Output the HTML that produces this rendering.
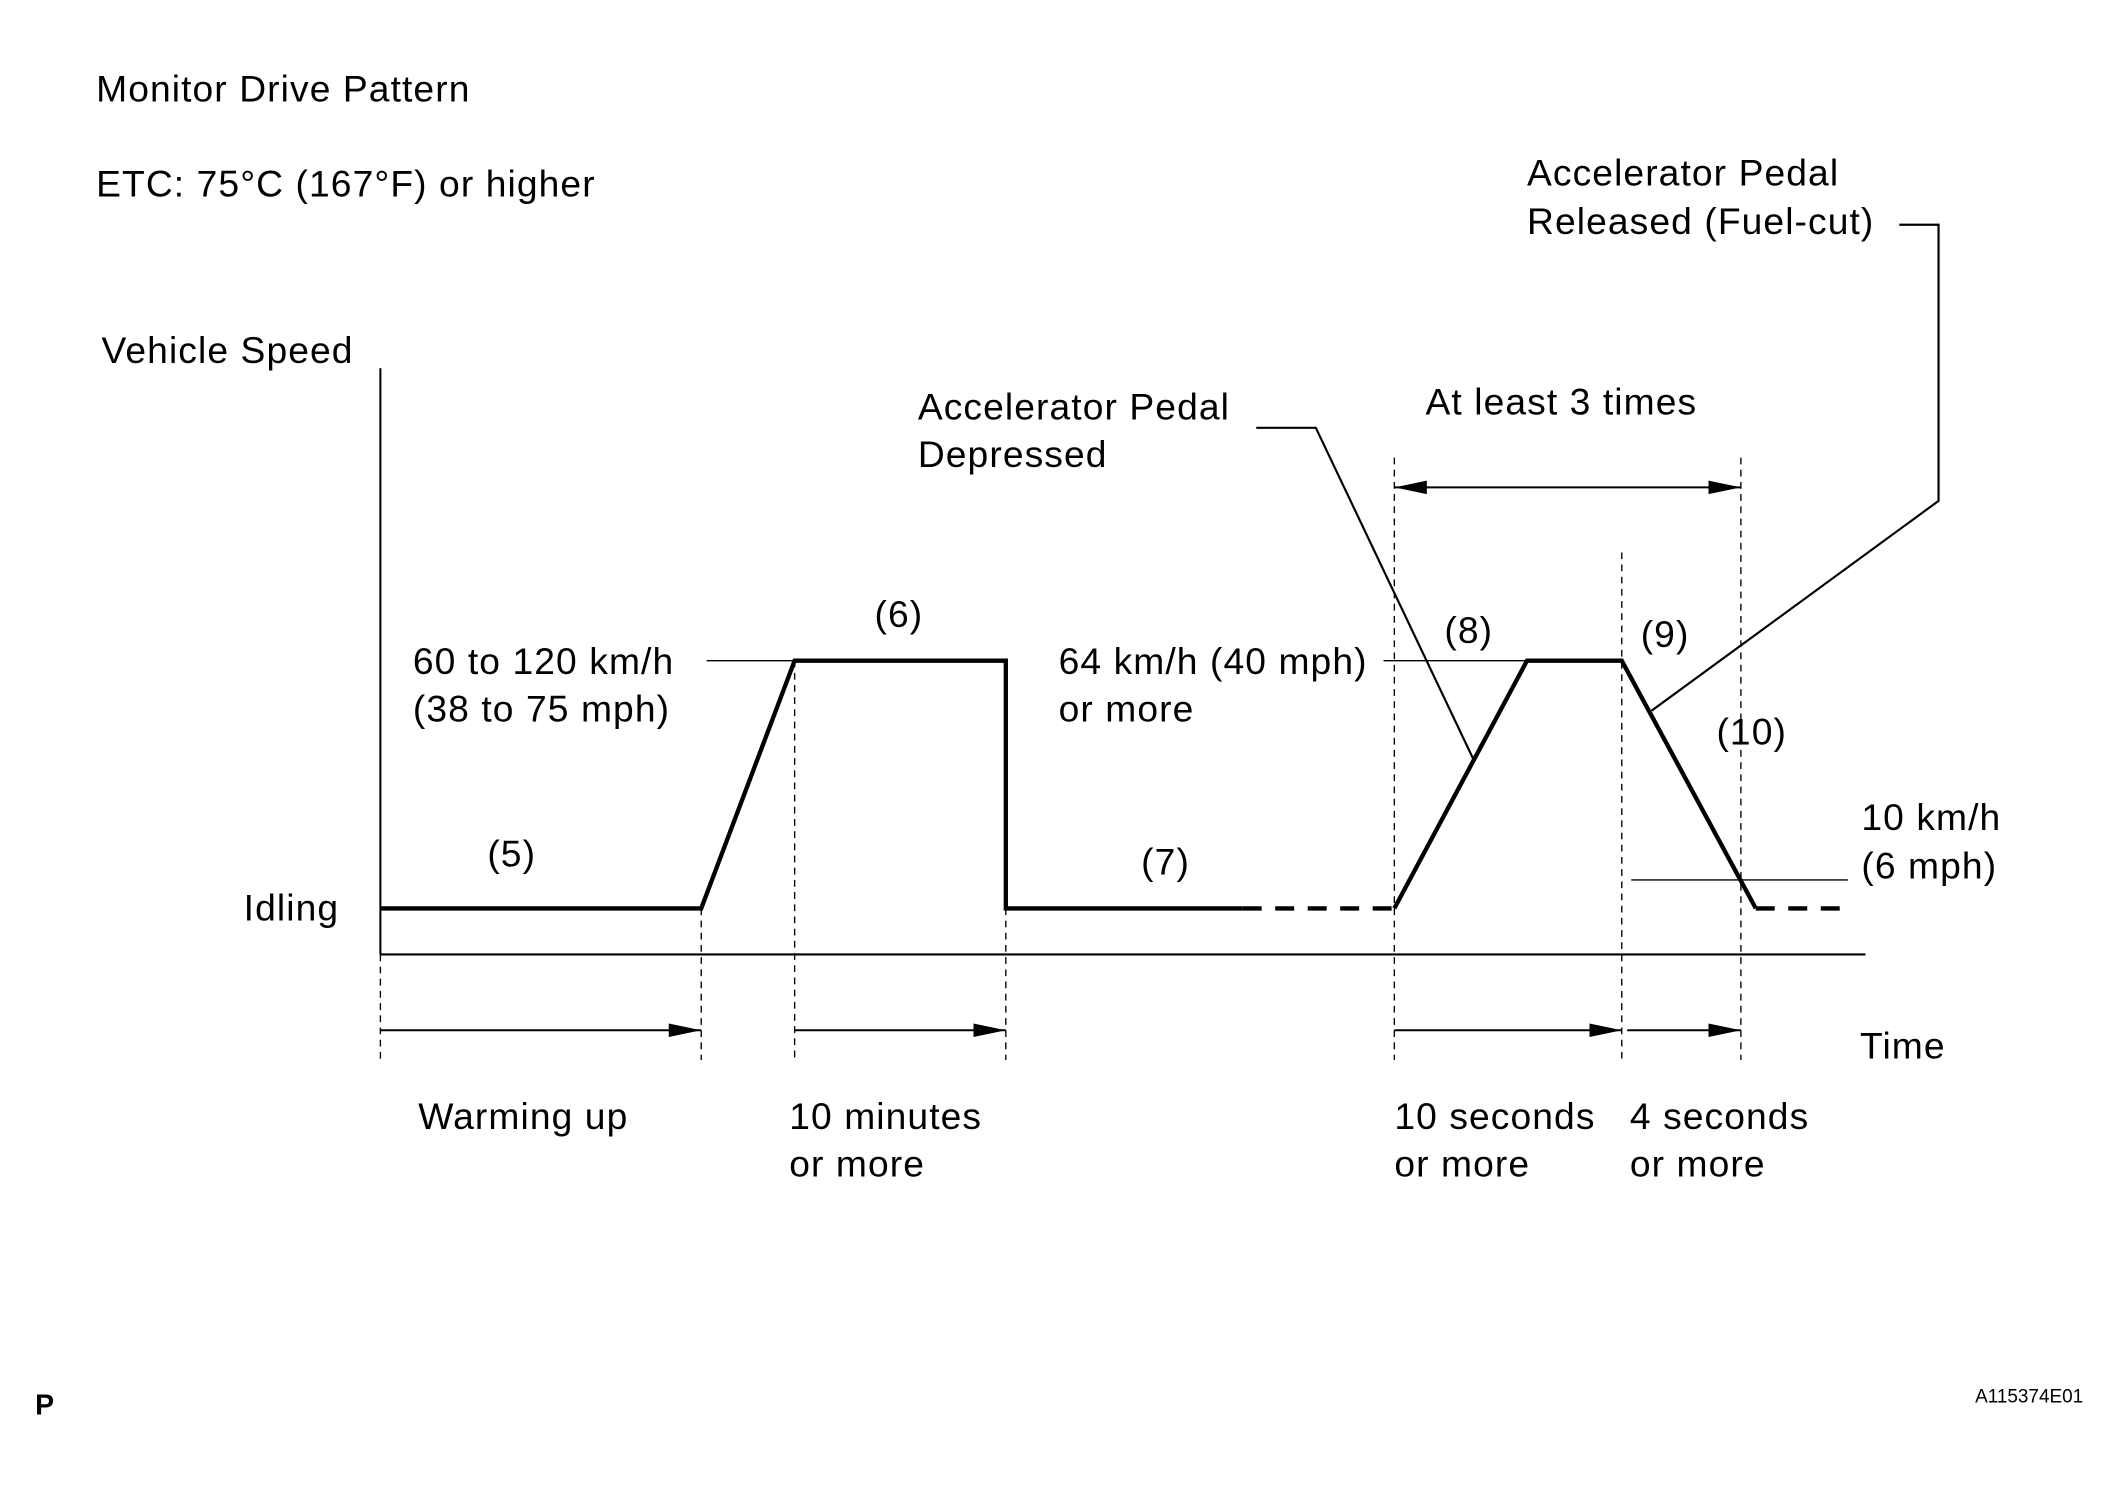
<!DOCTYPE html>
<html><head><meta charset="utf-8"><style>
html,body{margin:0;padding:0;background:#fff;}
svg{display:block;}
text{font-family:"Liberation Sans",Arial,sans-serif;font-size:27.5px;letter-spacing:0.8px;fill:#000;}
</style></head><body>
<svg width="2124" height="1490" viewBox="0 0 1569 1100.6" preserveAspectRatio="none" xmlns="http://www.w3.org/2000/svg">
<defs>
<marker id="ah2" markerWidth="24" markerHeight="10" refX="24" refY="5" orient="auto-start-reverse" markerUnits="userSpaceOnUse" viewBox="0 0 24 10">
<path d="M0,0 L24,5 L0,10 Z" fill="#000"/></marker>
</defs>
<text x="71" y="75">Monitor Drive Pattern</text>
<text x="71" y="145">ETC: 75°C (167°F) or higher</text>
<text x="1128" y="137">Accelerator Pedal</text>
<text x="1128" y="173">Released (Fuel-cut)</text>
<polyline points="1403,166 1432,166 1432,370 1220,525" fill="none" stroke="#000" stroke-width="1.6"/>
<text x="75" y="268">Vehicle Speed</text>
<line x1="281" y1="272" x2="281" y2="705" stroke="#000" stroke-width="1.5"/>
<line x1="281" y1="705" x2="1378" y2="705" stroke="#000" stroke-width="1.5"/>
<text x="180" y="680">Idling</text>
<polyline points="281,671 518,671 587,488 743,488 743,671 918,671" fill="none" stroke="#000" stroke-width="3.2"/>
<line x1="918" y1="671" x2="1030" y2="671" stroke="#000" stroke-width="3.2" stroke-dasharray="14,10"/>
<polyline points="1030,671 1128,488 1198,488 1297,671" fill="none" stroke="#000" stroke-width="3.2"/>
<line x1="1297" y1="671" x2="1365" y2="671" stroke="#000" stroke-width="3.2" stroke-dasharray="14,10"/>
<text x="378" y="640" text-anchor="middle">(5)</text>
<text x="664" y="463" text-anchor="middle">(6)</text>
<text x="861" y="646" text-anchor="middle">(7)</text>
<text x="1085" y="475" text-anchor="middle">(8)</text>
<text x="1230" y="478" text-anchor="middle">(9)</text>
<text x="1294" y="550" text-anchor="middle">(10)</text>
<text x="305" y="498">60 to 120 km/h</text>
<text x="305" y="533">(38 to 75 mph)</text>
<line x1="522" y1="488" x2="587" y2="488" stroke="#000" stroke-width="1"/>
<text x="782" y="498">64 km/h (40 mph)</text>
<text x="782" y="533">or more</text>
<line x1="1022" y1="488" x2="1128" y2="488" stroke="#000" stroke-width="1"/>
<text x="1375" y="613">10 km/h</text>
<text x="1375" y="649">(6 mph)</text>
<line x1="1205" y1="650" x2="1365" y2="650" stroke="#000" stroke-width="1"/>
<text x="678" y="310">Accelerator Pedal</text>
<text x="678" y="345">Depressed</text>
<polyline points="928,316 972,316 1088,560" fill="none" stroke="#000" stroke-width="1.6"/>
<text x="1053" y="306">At least 3 times</text>
<line x1="1030" y1="360" x2="1286" y2="360" stroke="#000" stroke-width="1.5" marker-start="url(#ah2)" marker-end="url(#ah2)"/>
<g stroke="#000" stroke-width="1" stroke-dasharray="5,4">
<line x1="281" y1="705" x2="281" y2="783"/>
<line x1="518" y1="671" x2="518" y2="783"/>
<line x1="587" y1="488" x2="587" y2="783"/>
<line x1="743" y1="671" x2="743" y2="783"/>
<line x1="1030" y1="338" x2="1030" y2="783"/>
<line x1="1198" y1="408" x2="1198" y2="783"/>
<line x1="1286" y1="338" x2="1286" y2="783"/>
</g>
<g stroke="#000" stroke-width="1.5">
<line x1="281" y1="761" x2="518" y2="761" marker-end="url(#ah2)"/>
<line x1="587" y1="761" x2="743" y2="761" marker-end="url(#ah2)"/>
<line x1="1030" y1="761" x2="1198" y2="761" marker-end="url(#ah2)"/>
<line x1="1202" y1="761" x2="1286" y2="761" marker-end="url(#ah2)"/>
</g>
<text x="1374" y="782">Time</text>
<text x="309" y="834">Warming up</text>
<text x="583" y="834">10 minutes</text>
<text x="583" y="869">or more</text>
<text x="1030" y="834">10 seconds</text>
<text x="1030" y="869">or more</text>
<text x="1204" y="834">4 seconds</text>
<text x="1204" y="869">or more</text>
<text x="26" y="1045" style="font-weight:bold;font-size:21px;letter-spacing:0">P</text>
<text x="1459" y="1036" style="font-size:14px;letter-spacing:0">A115374E01</text>
</svg>
</body></html>
